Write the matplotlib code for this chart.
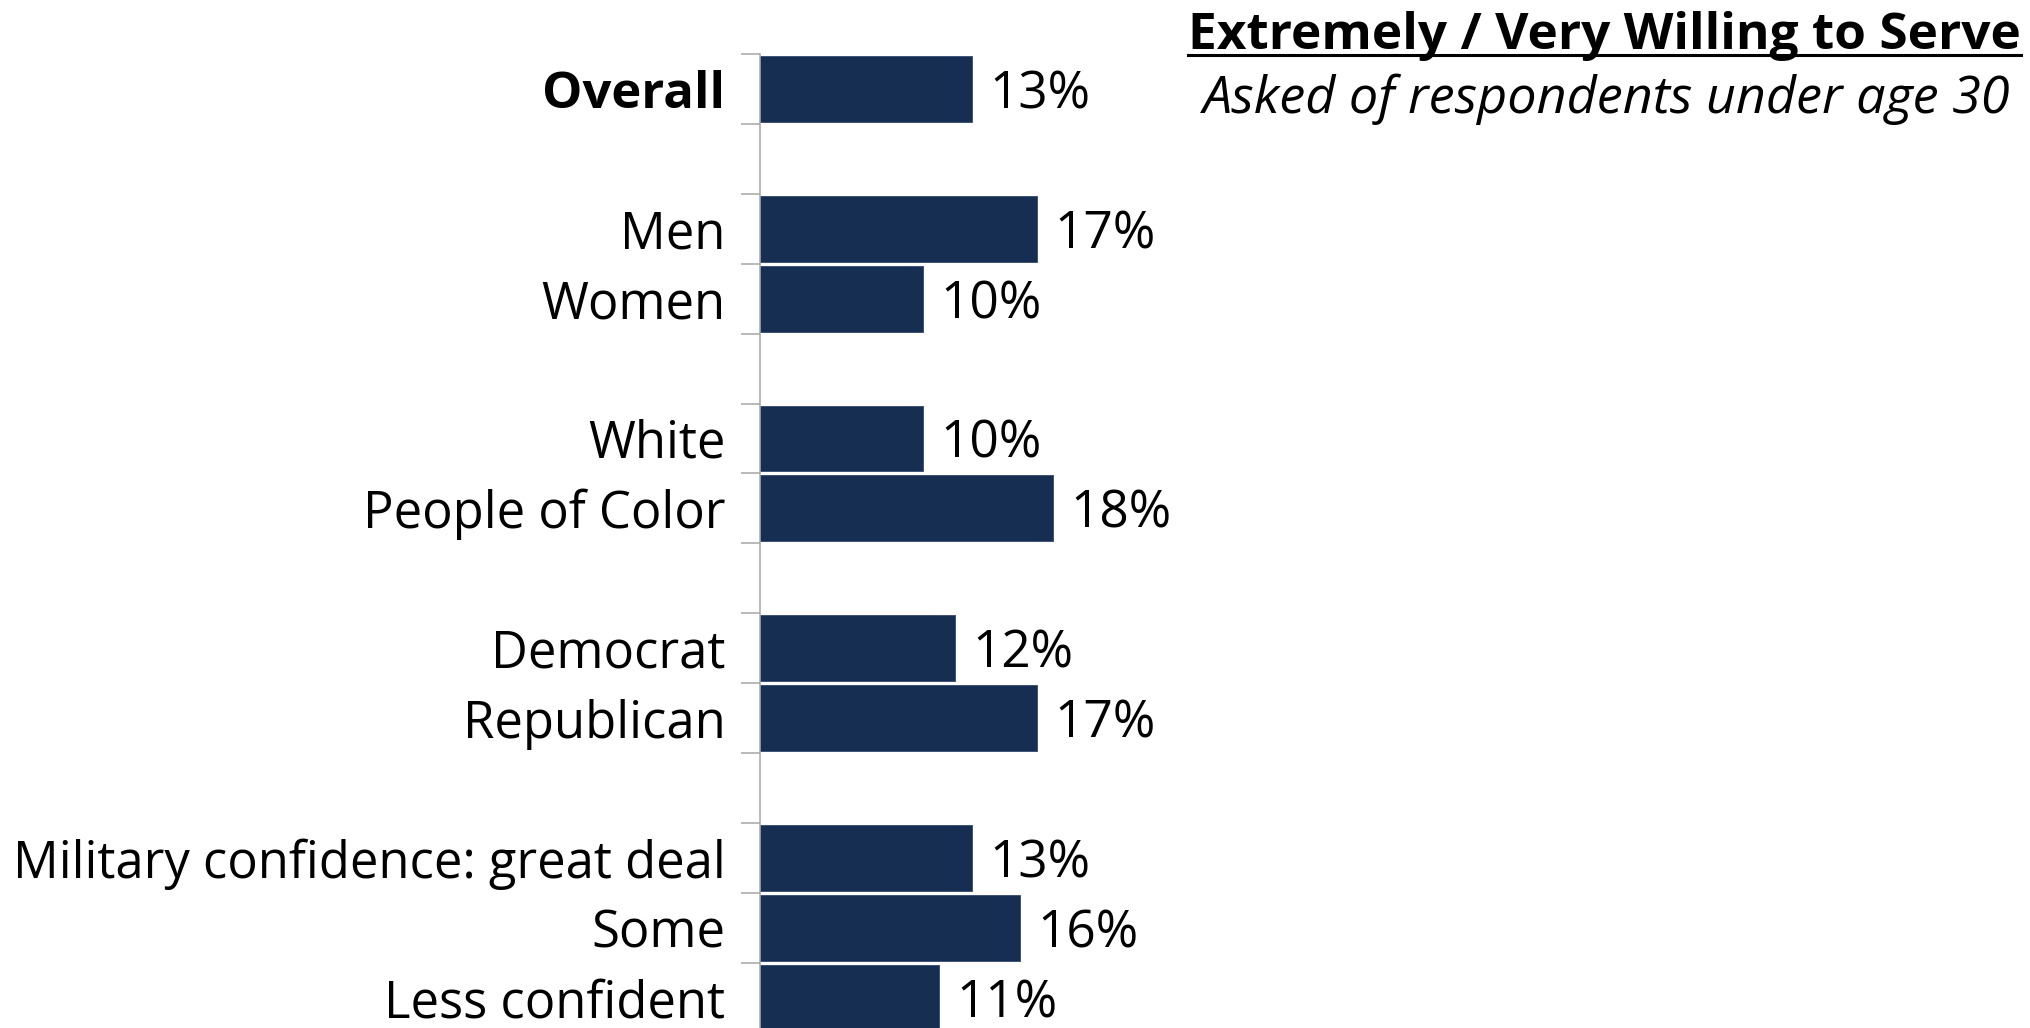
import matplotlib
matplotlib.use("Agg")
import matplotlib.pyplot as plt
from matplotlib.lines import Line2D

categories = ["Overall", "", "Men", "Women", "", "White", "People of Color", "",
              "Democrat", "Republican", "", "Military confidence: great deal",
              "Some", "Less confident"]
values = [13, None, 17, 10, None, 10, 18, None, 12, 17, None, 13, 16, 11]
title = "Extremely / Very Willing to Serve"
subtitle = "Asked of respondents under age 30"

FONT = "Open Sans"
plt.rcParams['font.family'] = [FONT, 'DejaVu Sans']

W, H = 2031, 1028
fig = plt.figure(figsize=(W / 100, H / 100), dpi=100)
ax_left = 760 / W
ax_top_px = 54
slot_px = 69.9
n = len(categories)
ax_bottom_px = ax_top_px + n * slot_px
ax = fig.add_axes([ax_left, 1 - ax_bottom_px / H, 1 - ax_left, (ax_bottom_px - ax_top_px) / H])

bar_color = "#152E51"
ys = list(range(n))
for y, v in zip(ys, values):
    if v is None:
        continue
    ax.barh(y, v, height=0.94, color=bar_color, edgecolor="#3d5276", linewidth=0.7)
    ax.annotate(f"{v}%", xy=(v, y), xytext=(12.5, 0), textcoords="offset points",
                ha="left", va="center_baseline", fontsize=37, color="black")

ax.set_ylim(n - 0.5, -0.5)
ax.set_xlim(0, (W - 760) / 16.28)

ax.set_yticks(ys)
ax.set_yticklabels(categories, fontsize=36.5)
ax.tick_params(axis="y", which="major", length=0, pad=25)
ax.set_yticks([i - 0.5 for i in range(n + 1)], minor=True)
ax.tick_params(axis="y", which="minor", length=13.5, width=1.1, color="#a6a6a6")
for lbl in ax.get_yticklabels():
    if lbl.get_text() == "Overall":
        lbl.set_fontweight("bold")

for s in ["top", "right", "bottom"]:
    ax.spines[s].set_visible(False)
ax.spines["left"].set_color("#a6a6a6")
ax.spines["left"].set_linewidth(1.1)
ax.xaxis.set_visible(False)

t = fig.text(2021 / W, 1 - 49 / H, title, ha="right", va="baseline",
             fontsize=37, fontweight="bold", color="black")
fig.text(2011 / W, 1 - 113 / H, subtitle, ha="right", va="baseline",
         fontsize=37.5, fontstyle="italic", color="black")

fig.canvas.draw()
bb = t.get_window_extent(renderer=fig.canvas.get_renderer())
uy = 1 - 55 / H
fig.add_artist(Line2D([bb.x0 / W, bb.x1 / W], [uy, uy], transform=fig.transFigure,
                      color="black", linewidth=2.2))

fig.savefig("out.png", dpi=100)
